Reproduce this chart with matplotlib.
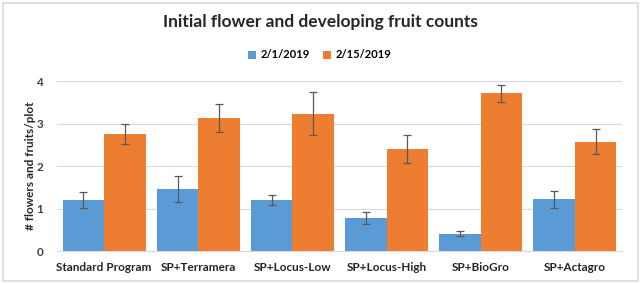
import matplotlib
matplotlib.use("Agg")
import matplotlib.pyplot as plt
import numpy as np
from matplotlib.patches import Rectangle

categories = ["Standard Program", "SP+Terramera", "SP+Locus-Low", "SP+Locus-High", "SP+BioGro", "SP+Actagro"]
series_names = ["2/1/2019", "2/15/2019"]
vals_feb1 = [1.20, 1.46, 1.20, 0.78, 0.41, 1.22]
err_feb1 = [0.19, 0.31, 0.12, 0.15, 0.05, 0.20]
vals_feb15 = [2.76, 3.14, 3.24, 2.40, 3.72, 2.58]
err_feb15 = [0.23, 0.33, 0.51, 0.33, 0.20, 0.30]
yticks = [0, 1, 2, 3, 4]

plt.rcParams['font.family'] = ['Lato', 'DejaVu Sans']

fig = plt.figure(figsize=(6.4, 2.84), dpi=100)
ax = fig.add_axes([57/640, 1 - 251/284, (622 - 57)/640, (251 - 81.3)/284 * 1.0])

x = np.arange(len(categories))
w = 0.44
c1 = "#5B9BD5"
c2 = "#ED7D31"
ax.bar(x - w/2, vals_feb1, w, color=c1, label=series_names[0], zorder=2,
       yerr=err_feb1, error_kw=dict(ecolor="#595959", elinewidth=0.9, capsize=3, capthick=0.9))
ax.bar(x + w/2, vals_feb15, w, color=c2, label=series_names[1], zorder=2,
       yerr=err_feb15, error_kw=dict(ecolor="#595959", elinewidth=0.9, capsize=3, capthick=0.9))

ax.set_xlim(-0.5, len(categories) - 0.5)
ax.set_ylim(0, 4)
ax.set_yticks(yticks)
ax.set_yticklabels([str(t) for t in yticks], fontsize=8.5, fontweight="bold", color="#404040")
ax.set_xticks(x)
ax.set_xticklabels(categories, fontsize=8.5, fontweight="bold", color="#262626")
ax.tick_params(axis="x", length=0, pad=8)
ax.tick_params(axis="y", length=0, pad=10)
ax.grid(axis="y", color="#D9D9D9", linewidth=0.8, zorder=0)
for s in ["top", "right", "left"]:
    ax.spines[s].set_visible(False)
ax.spines["bottom"].set_color("#D9D9D9")
ax.set_ylabel("# flowers and fruits/plot", fontsize=8.5, fontweight="bold", color="#262626", labelpad=0)

fig.text(0.5, 1 - 22/284, "Initial flower and developing fruit counts", ha="center", va="center",
         fontsize=12.5, fontweight="bold", color="#262626")
fig.legend(loc="center", bbox_to_anchor=(0.5, 1 - 55/284), ncol=2, frameon=False,
           prop=dict(weight="bold", size=8), handlelength=0.7, handleheight=0.7,
           columnspacing=1.2, handletextpad=0.4)

fig.patches.append(Rectangle((3/640, 3/284), 635/640, 278/284, transform=fig.transFigure,
                             fill=False, edgecolor="#D9D9D9", linewidth=1.2))
fig.savefig("out.png", dpi=100)
